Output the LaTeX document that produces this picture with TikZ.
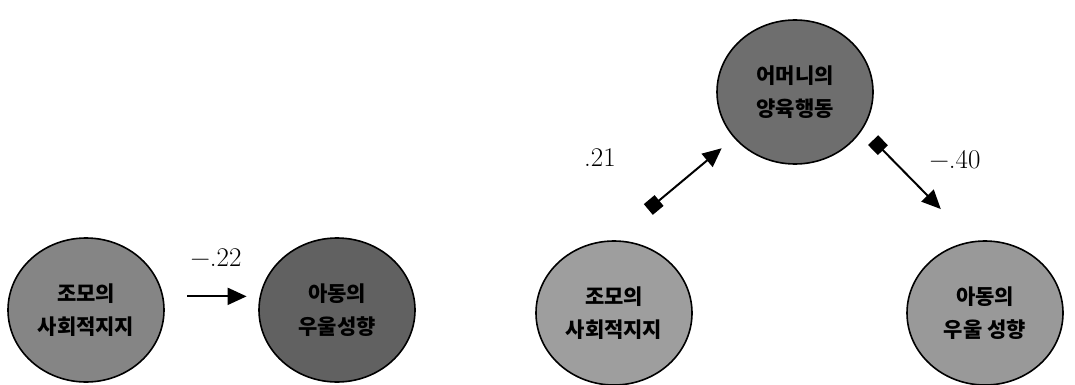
\documentclass[tikz,border=0pt]{standalone}
\usepackage{fontspec}
\newfontfamily\kr{Noto Sans CJK KR}
\usetikzlibrary{arrows.meta,shapes.geometric}

\begin{document}
\begin{tikzpicture}[x=1pt,y=-1pt,
	var/.style={ellipse,draw,line width=1.6pt,minimum width=156pt,minimum height=144pt,inner sep=0pt,align=center,font=\kr\bfseries\fontsize{21}{33}\selectfont},
	coef/.style={font=\fontsize{27}{30}\selectfont},
	effect/.style={line width=2pt,-{Triangle[length=19pt,width=17pt]}},
	corr/.style={line width=2pt,{Square[length=14pt,width=14pt]}-{Triangle[length=19pt,width=17pt]}}]
		\useasboundingbox (0,0) rectangle (1075,385);
		% model 1
		\node[var,fill=black!48] (zm1) at (86,310) {조모의\\사회적지지};
		\node[var,fill=black!62] (ch1) at (337,310) {아동의\\우울성향};
		\draw[effect,shorten <=24pt,shorten >=13pt] (zm1.10)--(ch1.170);
		\node[coef] (b1) at (216,258) {−.22};
		% model 2
		\node[var,fill=black!57] (mh) at (795,92) {어머니의\\양육행동};
		\node[var,fill=black!38] (zm2) at (614,313) {조모의\\사회적지지};
		\node[var,fill=black!40] (ch2) at (985,313) {아동의\\우울 성향};
		\draw[corr,shorten <=48pt,shorten >=16pt] (zm2.92)--(mh.217);
		\draw[corr,shorten <=15pt,shorten >=45pt] (mh.331)--(ch2.100);
		\node[coef] (b2) at (600,158) {.21};
		\node[coef] (b3) at (955,160) {−.40};
		%\node at (540,20) {};
		\end{tikzpicture}
\end{document}
